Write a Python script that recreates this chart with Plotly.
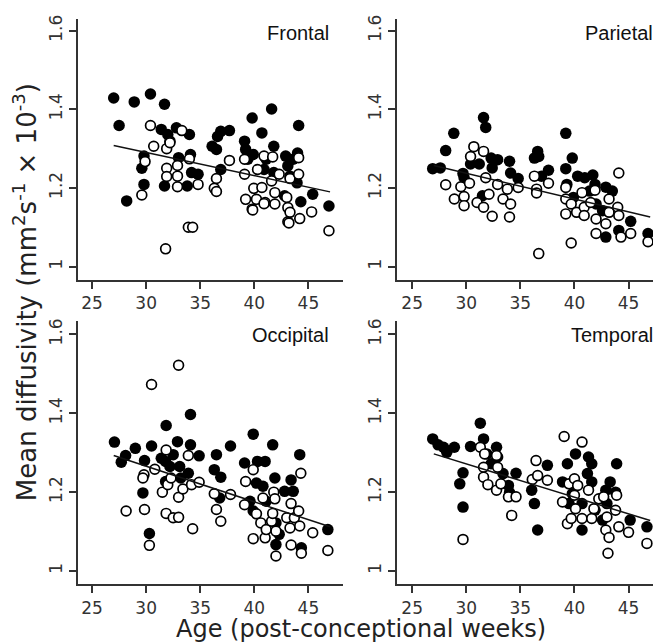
import plotly.graph_objects as go

# ---------------- data ----------------
regions = ["Frontal", "Parietal", "Occipital", "Temporal"]

frontal_filled_age = [27.0, 27.5, 28.9, 30.4, 31.7, 28.2, 29.8, 29.6, 29.8, 31.7, 31.4, 32.0, 32.8, 32.2,
                      33.8, 34.0, 34.1, 34.2, 34.8, 33.0, 36.1, 36.5, 36.9, 36.6, 37.7, 36.9, 39.8, 39.1,
                      39.2, 39.9, 40.7, 41.6, 41.8, 41.1, 40.9, 42.9, 43.1, 43.3, 44.1, 44.0, 43.95, 44.3,
                      45.4, 46.9, 42.8, 41.8, 39.4, 43.6]
frontal_filled_md = [1.429, 1.359, 1.419, 1.439, 1.413, 1.167, 1.281, 1.250, 1.209, 1.205, 1.349, 1.336,
                     1.353, 1.319, 1.205, 1.336, 1.285, 1.239, 1.235, 1.277, 1.306, 1.298, 1.344, 1.331,
                     1.346, 1.247, 1.378, 1.319, 1.298, 1.285, 1.340, 1.401, 1.306, 1.273, 1.247, 1.281,
                     1.256, 1.230, 1.359, 1.289, 1.213, 1.165, 1.184, 1.154, 1.180, 1.239, 1.273, 1.273]
frontal_open_age = [30.4, 30.7, 31.9, 32.2, 29.9, 29.6, 31.9, 31.9, 32.9, 32.9, 32.9, 33.3, 34.0, 34.8,
                    33.9, 34.3, 31.8, 36.3, 36.5, 36.5, 37.7, 39.1, 39.1, 39.2, 39.8, 40.2, 39.95, 40.3,
                    40.9, 41.7, 40.7, 41.0, 41.9, 41.9, 41.6, 43.0, 43.1, 43.1, 43.3, 43.3, 44.1, 44.1,
                    44.2, 45.3, 46.9, 42.3, 39.85, 40.9, 43.2]
frontal_open_md = [1.359, 1.306, 1.300, 1.315, 1.267, 1.182, 1.250, 1.229, 1.257, 1.230, 1.203, 1.346,
                   1.274, 1.209, 1.100, 1.100, 1.045, 1.199, 1.191, 1.224, 1.270, 1.273, 1.235, 1.171,
                   1.146, 1.171, 1.199, 1.247, 1.281, 1.279, 1.201, 1.163, 1.188, 1.159, 1.218, 1.176,
                   1.150, 1.114, 1.138, 1.224, 1.277, 1.235, 1.122, 1.139, 1.091, 1.235, 1.144, 1.160,
                   1.111]

parietal_filled_age = [26.9, 27.6, 28.1, 28.85, 29.7, 29.8, 30.4, 31.2, 31.6, 31.8, 32.3, 32.4, 32.9,
                       34.0, 34.1, 34.8, 31.5, 36.3, 36.6, 36.7, 37.6, 36.95, 39.2, 39.8, 39.2, 39.3,
                       40.3, 40.95, 41.7, 41.9, 42.0, 42.9, 43.5, 42.9, 44.1, 45.2, 46.8, 41.4, 42.6,
                       39.9]
parietal_filled_md = [1.249, 1.251, 1.295, 1.339, 1.237, 1.226, 1.261, 1.261, 1.379, 1.354, 1.276, 1.251,
                      1.272, 1.268, 1.238, 1.224, 1.180, 1.276, 1.293, 1.280, 1.245, 1.230, 1.339, 1.276,
                      1.249, 1.209, 1.230, 1.226, 1.233, 1.209, 1.159, 1.202, 1.192, 1.075, 1.092, 1.115,
                      1.084, 1.192, 1.142, 1.176]
parietal_open_age = [28.1, 28.9, 29.5, 29.8, 29.8, 30.3, 30.7, 30.4, 31.0, 31.6, 31.6, 31.8, 32.1, 32.4,
                     32.9, 33.4, 33.8, 34.1, 34.0, 34.8, 36.3, 36.5, 36.5, 36.7, 37.6, 39.2, 39.2, 39.2,
                     39.7, 39.7, 40.2, 40.7, 40.9, 40.9, 41.9, 41.5, 42.0, 42.0, 43.2, 42.9, 43.2, 44.0,
                     44.1, 44.1, 44.3, 45.2, 46.8]
parietal_open_md = [1.208, 1.172, 1.203, 1.178, 1.155, 1.212, 1.305, 1.280, 1.163, 1.293, 1.151, 1.226,
                    1.184, 1.128, 1.209, 1.172, 1.197, 1.159, 1.126, 1.201, 1.230, 1.197, 1.187, 1.033,
                    1.212, 1.201, 1.172, 1.134, 1.060, 1.159, 1.138, 1.188, 1.151, 1.130, 1.194, 1.163,
                    1.121, 1.084, 1.172, 1.109, 1.138, 1.151, 1.238, 1.130, 1.075, 1.084, 1.063]

occipital_filled_age = [27.07, 27.7, 28.1, 29.0, 29.85, 29.7, 30.3, 30.5, 31.4, 31.85, 31.8, 32.2, 32.9,
                        32.5, 33.1, 33.2, 34.1, 34.1, 34.9, 33.9, 31.8, 36.5, 36.3, 36.9, 36.8, 37.8,
                        39.1, 39.9, 40.3, 41.0, 40.2, 40.8, 41.7, 41.9, 39.9, 41.1, 42.0, 42.0, 42.8,
                        43.4, 43.6, 44.2, 44.35, 46.8, 42.3, 39.6]
occipital_filled_md = [1.327, 1.276, 1.293, 1.311, 1.280, 1.198, 1.095, 1.317, 1.286, 1.369, 1.278, 1.265,
                       1.328, 1.295, 1.265, 1.236, 1.397, 1.320, 1.292, 1.248, 1.227, 1.295, 1.257, 1.238,
                       1.185, 1.317, 1.274, 1.347, 1.278, 1.278, 1.223, 1.215, 1.320, 1.236, 1.152, 1.177,
                       1.122, 1.067, 1.202, 1.231, 1.202, 1.295, 1.059, 1.105, 1.093, 1.177]
occipital_open_age = [28.15, 29.8, 29.85, 29.7, 30.3, 30.5, 30.8, 31.5, 31.85, 32.0, 31.85, 32.5, 33.0,
                      33.0, 33.4, 32.3, 33.0, 33.9, 34.2, 34.3, 34.9, 36.3, 36.5, 36.9, 37.8, 39.1, 39.2,
                      39.9, 39.9, 40.2, 40.6, 40.8, 41.0, 41.1, 41.6, 41.8, 41.9, 42.0, 42.0, 41.7, 43.0,
                      43.3, 43.4, 43.4, 43.7, 44.1, 44.3, 44.2, 44.35, 45.4, 46.8]
occipital_open_md = [1.152, 1.244, 1.156, 1.236, 1.065, 1.473, 1.258, 1.200, 1.307, 1.219, 1.146, 1.135,
                     1.136, 1.187, 1.208, 1.236, 1.522, 1.293, 1.219, 1.107, 1.225, 1.196, 1.156, 1.126,
                     1.194, 1.168, 1.227, 1.257, 1.082, 1.145, 1.122, 1.185, 1.084, 1.105, 1.126, 1.200,
                     1.183, 1.101, 1.038, 1.146, 1.135, 1.109, 1.171, 1.066, 1.135, 1.152, 1.248, 1.114,
                     1.045, 1.097, 1.052]

temporal_filled_age = [26.9, 27.4, 27.9, 28.2, 28.9, 29.4, 29.7, 29.7, 30.4, 31.3, 31.6, 31.9, 32.3, 32.8,
                       32.9, 33.4, 33.9, 34.6, 34.0, 36.05, 36.3, 36.6, 37.5, 38.9, 39.35, 40.1, 39.8,
                       40.7, 41.2, 41.3, 41.6, 41.6, 39.5, 40.7, 41.9, 42.9, 43.3, 43.0, 43.8, 43.9,
                       45.15, 46.7, 42.6]
temporal_filled_md = [1.335, 1.320, 1.314, 1.301, 1.314, 1.221, 1.249, 1.162, 1.316, 1.375, 1.335, 1.297,
                      1.272, 1.314, 1.289, 1.247, 1.217, 1.248, 1.199, 1.205, 1.171, 1.104, 1.268, 1.226,
                      1.272, 1.297, 1.196, 1.104, 1.247, 1.289, 1.272, 1.226, 1.171, 1.171, 1.154, 1.205,
                      1.226, 1.171, 1.200, 1.272, 1.129, 1.112, 1.129]
temporal_open_age = [31.3, 31.7, 31.6, 31.6, 32.0, 32.8, 32.9, 32.8, 33.2, 33.9, 34.6, 34.2, 29.7, 36.45,
                     36.1, 36.6, 37.5, 39.05, 38.9, 39.5, 40.0, 40.0, 40.3, 39.35, 39.7, 40.1, 40.7, 40.7,
                     41.3, 41.6, 41.8, 42.25, 42.7, 43.0, 42.9, 43.2, 43.1, 43.8, 43.9, 44.1, 45.0, 46.7]
temporal_open_md = [1.314, 1.297, 1.263, 1.238, 1.219, 1.293, 1.263, 1.205, 1.221, 1.188, 1.188, 1.141,
                    1.080, 1.280, 1.232, 1.242, 1.230, 1.341, 1.175, 1.221, 1.234, 1.192, 1.217, 1.120,
                    1.133, 1.158, 1.133, 1.327, 1.205, 1.133, 1.158, 1.183, 1.188, 1.137, 1.104, 1.085,
                    1.045, 1.154, 1.192, 1.112, 1.098, 1.070]

# fitted regression lines (end points)
fit_age = [27.0, 47.0]
fit_start_md = [1.308, 1.257, 1.293, 1.297]
fit_end_md = [1.190, 1.126, 1.112, 1.128]

x_ticks = [25, 30, 35, 40, 45]
y_ticks = [1.0, 1.2, 1.4, 1.6]
y_tick_labels = ["1", "1.2", "1.4", "1.6"]

# ---------------- figure ----------------
OFF = 8  # the page body has an 8px margin; shift the layout to compensate
W, H = 661 - OFF, 644 - OFF
filled = [(frontal_filled_age, frontal_filled_md), (parietal_filled_age, parietal_filled_md),
          (occipital_filled_age, occipital_filled_md), (temporal_filled_age, temporal_filled_md)]
opened = [(frontal_open_age, frontal_open_md), (parietal_open_age, parietal_open_md),
          (occipital_open_age, occipital_open_md), (temporal_open_age, temporal_open_md)]

# panel geometry in screen pixels (left, right, top, bottom) and x ranges
panels = [
    dict(l=78, r=343, t=15, b=278, xr=[23.7, 48.2]),
    dict(l=397, r=661, t=15, b=278, xr=[23.6, 48.0]),
    dict(l=78, r=343, t=319, b=584, xr=[23.7, 48.2]),
    dict(l=397, r=661, t=319, b=584, xr=[23.6, 48.0]),
]
y_ranges = [[0.965, 1.63], [0.965, 1.63], [0.966, 1.634], [0.966, 1.634]]


def px(v):
    return (v - OFF) / W


def py(v):
    return 1 - (v - OFF) / H


fig = go.Figure()
layout = dict(width=W, height=H, margin=dict(l=0, r=0, t=0, b=0),
              paper_bgcolor="white", plot_bgcolor="white", showlegend=False,
              font=dict(family="DejaVu Sans", color="#222"))

tickfont = dict(family="DejaVu Sans", size=17, color="#333")
annotations = []
for i, p in enumerate(panels):
    n = "" if i == 0 else str(i + 1)
    xa, ya = "x" + n, "y" + n
    layout["xaxis" + n] = dict(domain=[px(p["l"]), min(1.0, px(p["r"]))], range=p["xr"], anchor=ya,
                               showgrid=False, zeroline=False, showline=True, linecolor="#333",
                               linewidth=1.5, ticks="outside", ticklen=7, tickwidth=1.5,
                               tickcolor="#333", tickvals=x_ticks, tickfont=tickfont)
    layout["yaxis" + n] = dict(domain=[py(p["b"]), py(p["t"])], range=y_ranges[i], anchor=xa,
                               showgrid=False, zeroline=False, showline=True, linecolor="#333",
                               linewidth=1.5, ticks="outside", ticklen=7, tickwidth=1.5,
                               tickcolor="#333", tickvals=y_ticks, ticktext=y_tick_labels,
                               tickangle=-90, tickfont=tickfont)
    fx, fy = filled[i]
    ox, oy = opened[i]
    fig.add_trace(go.Scatter(x=fx, y=fy, mode="markers", xaxis=xa, yaxis=ya,
                             marker=dict(size=11.5, color="black", line=dict(width=0))))
    fig.add_trace(go.Scatter(x=ox, y=oy, mode="markers", xaxis=xa, yaxis=ya,
                             marker=dict(size=9.8, color="white", line=dict(width=1.7, color="black"))))
    fig.add_trace(go.Scatter(x=fit_age, y=[fit_start_md[i], fit_end_md[i]], mode="lines",
                             xaxis=xa, yaxis=ya, line=dict(color="#111", width=1.5)))
    # panel label
    right_px = 331 if i % 2 == 0 else 655
    annotations.append(dict(text=regions[i], xref="paper", yref="paper",
                            x=px(right_px), y=py(p["t"] + 14), xanchor="right", yanchor="middle",
                            showarrow=False, font=dict(family="Liberation Sans", size=20, color="#111")))

annotations.append(dict(text="Mean diffusivity (mm<sup>2</sup>s<sup>-1</sup> × 10<sup>-3</sup>)",
                        xref="paper", yref="paper", x=px(25), y=py(290), textangle=-90,
                        xanchor="center", yanchor="middle", showarrow=False,
                        font=dict(family="DejaVu Sans", size=26, color="#222")))
annotations.append(dict(text="Age (post-conceptional weeks)", xref="paper", yref="paper",
                        x=px(361), y=py(629), xanchor="center", yanchor="middle", showarrow=False,
                        font=dict(family="DejaVu Sans", size=24, color="#222")))
layout["annotations"] = annotations
fig.update_layout(**layout)
fig.write_html("out.html")
